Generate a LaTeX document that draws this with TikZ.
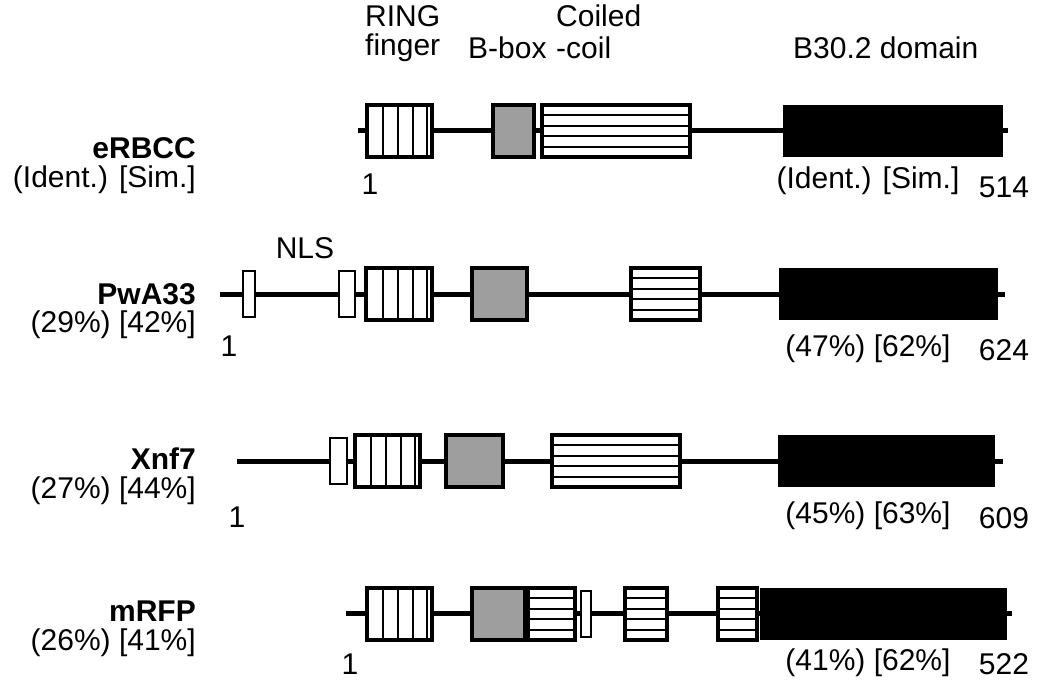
\documentclass[tikz,border=0pt]{standalone}
\usepackage{fontspec}
\setmainfont{Liberation Sans}

\tikzset{
  backbone/.style={line width=5pt},
  dom/.style={line width=3.5pt, fill=white},
  bboxdom/.style={line width=3.5pt, fill=black!38},
  nlsdom/.style={line width=2.5pt, fill=white},
  b30dom/.style={fill=black},
  stripe/.style={line width=2pt},
  lbl/.style={font=\fontsize{30}{36}\selectfont, inner sep=0pt},
  protname/.style={lbl, font=\fontsize{30}{36}\selectfont\bfseries, anchor=east},
}

% RING finger: white box with upright bars
\newcommand{\ringdom}[3]{%
  \draw[dom] (#1,#3-26) rectangle (#2,#3+26);
  \foreach \f in {0.25,0.48,0.71,0.92}
    \draw[stripe] ({#1+\f*(#2-#1)},#3-25) -- ({#1+\f*(#2-#1)},#3+25);
}
% coiled-coil: white box with flat bars
\newcommand{\coildom}[3]{%
  \draw[dom] (#1,#3-26) rectangle (#2,#3+26);
  \foreach \k in {1,...,4}
    \draw[stripe] (#1,{#3-26+\k*52/5}) -- (#2,{#3-26+\k*52/5});
}
\newcommand{\bboxd}[3]{\draw[bboxdom] (#1,#3-26) rectangle (#2,#3+26);}
\newcommand{\nlsd}[3]{\draw[nlsdom] (#1,#3-23) rectangle (#2,#3+23);}
\newcommand{\bthirty}[3]{\fill[b30dom] (#1,#3-26) rectangle (#2,#3+26);}

\begin{document}
\begin{tikzpicture}[x=1pt,y=-1pt]
\useasboundingbox (0,0) rectangle (1044,682);

% headings
\node[lbl, anchor=west] (hring) at (365,16) {RING};
\node[lbl, anchor=west] (hfinger) at (365,48) {finger};
\node[lbl, anchor=west] (hbbox) at (468,48) {B-box};
\node[lbl, anchor=west] (hcoiled) at (556,16) {Coiled};
\node[lbl, anchor=west] (hcoil) at (556,48) {-coil};
\node[lbl, anchor=west] (hbthirty) at (793,48) {B30.2 domain};

% eRBCC
\coordinate (e0) at (358,131);
\coordinate (e1) at (1008,131);
\draw[backbone] (e0) -- (e1);
\ringdom{367}{432}{131}
\bboxd{493}{534}{131}
\coildom{542}{690}{131}
\bthirty{783}{1003}{131}
\node[protname] (neRBCC) at (196,148) {eRBCC};
\node[lbl, anchor=east] (ieRBCC) at (196,180) {(Ident.) [Sim.]};
\node[lbl] (se) at (370,184) {1};
\node[lbl] (be) at (868,181) {(Ident.) [Sim.]};
\node[lbl] (le) at (1004,187) {514};

% PwA33
\coordinate (p0) at (220,294);
\coordinate (p1) at (1005,294);
\draw[backbone] (p0) -- (p1);
\nlsd{243}{255}{294}
\nlsd{339}{355}{294}
\ringdom{366}{432}{294}
\bboxd{472}{527}{294}
\coildom{631}{700}{294}
\bthirty{779}{998}{294}
\node[lbl] (nls) at (305,248) {NLS};
\node[protname] (nPwA) at (196,294) {PwA33};
\node[lbl, anchor=east] (iPwA) at (196,325) {(29\%) [42\%]};
\node[lbl] (sp) at (229,346) {1};
\node[lbl] (bp) at (868,349) {(47\%) [62\%]};
\node[lbl] (lp) at (1004,350) {624};

% Xnf7
\coordinate (x0) at (237,461);
\coordinate (x1) at (1003,461);
\draw[backbone] (x0) -- (x1);
\nlsd{330}{347}{461}
\ringdom{355}{420}{461}
\bboxd{446}{503}{461}
\coildom{552}{680}{461}
\bthirty{778}{995}{461}
\node[protname] (nXnf) at (196,459) {Xnf7};
\node[lbl, anchor=east] (iXnf) at (196,491) {(27\%) [44\%]};
\node[lbl] (sx) at (237,517) {1};
\node[lbl] (bx) at (868,516) {(45\%) [63\%]};
\node[lbl] (lx) at (1004,518) {609};

% mRFP
\coordinate (m0) at (346,613);
\coordinate (m1) at (1012,613);
\draw[backbone] (m0) -- (m1);
\ringdom{367}{432}{614}
\bboxd{472}{525}{614}
\coildom{528}{575}{614}
\nlsd{581}{591}{614}
\coildom{625}{667}{614}
\coildom{718}{757}{614}
\bthirty{760}{1007}{614}
\node[protname] (nmRFP) at (196,611) {mRFP};
\node[lbl, anchor=east] (imRFP) at (196,643) {(26\%) [41\%]};
\node[lbl] (sm) at (350,664) {1};
\node[lbl] (bm) at (868,663) {(41\%) [62\%]};
\node[lbl] (lm) at (1004,664) {522};
\end{tikzpicture}
\end{document}
